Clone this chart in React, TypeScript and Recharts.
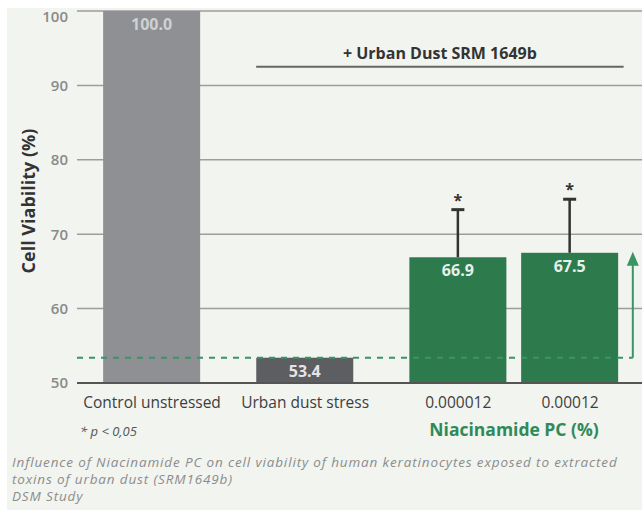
import { BarChart, Bar, XAxis, YAxis, CartesianGrid, ReferenceLine, LabelList, Cell } from 'recharts';

// categories and measured values (cell viability, %)
const categories = ['Control unstressed', 'Urban dust stress', '0.000012', '0.00012'];
const positions = [0, 1, 2, 2.73]; // the two niacinamide doses sit closer together
const viability = [100.0, 53.4, 66.9, 67.5];
const errorUp = [2.0, 0, 6.4, 7.2];
const significant = [false, false, true, true];
const barColors = ['#8e9094', '#5d5e62', '#2d7b4d', '#2d7b4d'];
const labelColors = ['#cfd0d2', '#e4e4e6', '#e6f0ea', '#e6f0ea'];
const yTicks = [50, 60, 70, 80, 90, 100];

// annotation positions (x in category units, y in %)
const bracketFrom = 0.68;
const bracketTo = 3.08;
const bracketY = 92.5;
const arrowPos = 3.14;

const Y_MIN = 50;
const Y_MAX = 100;
const GREEN = '#3a9464';
const FONT = '"Open Sans", sans-serif';

const data = categories.map((name, i) => ({
  name,
  pos: positions[i],
  value: viability[i],
  err: errorUp[i],
  sig: significant[i],
}));

function WhiskerBar(props: any) {
  const { x, y, width, height, fill, payload } = props;
  const pxPerUnit = height / (payload.value - Y_MIN);
  const cx = x + width / 2;
  const top = y - payload.err * pxPerUnit;
  return (
    <g>
      {payload.err > 0 && (
        <>
          <line x1={cx} x2={cx} y1={y} y2={top} stroke="#333" strokeWidth={2.5} />
          <line x1={cx - 6.5} x2={cx + 6.5} y1={top} y2={top} stroke="#333" strokeWidth={3} />
        </>
      )}
      {payload.sig && (
        <text x={cx} y={top - 4} textAnchor="middle" fontSize={16} fontWeight={700} fill="#333" fontFamily={FONT}>
          *
        </text>
      )}
      <rect x={x} y={y} width={width} height={height} fill={fill} />
    </g>
  );
}

function ValueLabel(props: any) {
  const { x, y, width, value, index } = props;
  return (
    <text
      x={x + width / 2}
      y={y + 13}
      textAnchor="middle"
      dominantBaseline="central"
      fontSize={16}
      fontWeight={700}
      fill={labelColors[index]}
      fontFamily={FONT}
    >
      {Number(value).toFixed(1)}
    </text>
  );
}

function ArrowLine(props: any) {
  const { x1, y1, y2 } = props;
  return (
    <g>
      <line x1={x1} x2={x1} y1={y1} y2={y2 + 10} stroke={GREEN} strokeWidth={2} />
      <polygon points={`${x1 - 6},${y2 + 13} ${x1 + 6},${y2 + 13} ${x1},${y2 - 1}`} fill={GREEN} />
    </g>
  );
}

export default function App() {
  return (
    <div style={{ position: 'absolute', left: 0, top: 0, width: 642, height: 513, background: '#fff', overflow: 'hidden', fontFamily: FONT }}>
      <div style={{ position: 'absolute', left: 7, top: 8, width: 635, height: 502, background: '#f1f4ef', overflow: 'hidden' }}>
        <BarChart width={635} height={420} data={data} margin={{ top: 3, right: 0, bottom: 15, left: 0 }}>
          <CartesianGrid vertical={false} stroke="#9c9d9c" strokeWidth={1.5} />
          <XAxis
            type="number"
            dataKey="pos"
            height={30}
            domain={[-0.49, 3.2]}
            allowDataOverflow
            ticks={positions}
            interval={0}
            tickFormatter={(v: number) => categories[positions.indexOf(v)]}
            tickLine={false}
            tickMargin={8}
            axisLine={{ stroke: '#555', strokeWidth: 2 }}
            tick={{ fill: '#3e3e3e', fontSize: 15.5, fontFamily: FONT }}
          />
          <YAxis
            width={70}
            domain={[Y_MIN, Y_MAX]}
            ticks={yTicks}
            allowDataOverflow
            axisLine={false}
            tickLine={false}
            tickMargin={3}
            tick={{ fill: '#8a8a8a', fontSize: 15, fontWeight: 600, fontFamily: FONT }}
          />
          <ReferenceLine
            segment={[{ x: -0.49, y: viability[1] }, { x: arrowPos, y: viability[1] }]}
            stroke={GREEN}
            strokeWidth={2}
            strokeDasharray="6 6"
            ifOverflow="visible"
          />
          <Bar dataKey="value" barSize={97} isAnimationActive={false} shape={<WhiskerBar />}>
            {data.map((d, i) => (
              <Cell key={d.name} fill={barColors[i]} />
            ))}
            <LabelList dataKey="value" content={<ValueLabel />} />
          </Bar>
          <ReferenceLine
            segment={[{ x: arrowPos, y: viability[1] }, { x: arrowPos, y: Math.max(viability[2], viability[3]) }]}
            ifOverflow="visible"
            shape={<ArrowLine />}
          />
          <ReferenceLine
            segment={[{ x: bracketFrom, y: bracketY }, { x: bracketTo, y: bracketY }]}
            stroke="#666"
            strokeWidth={2}
            ifOverflow="visible"
            label={{ value: '+ Urban Dust SRM 1649b', position: 'top', offset: 8, fill: '#333', fontSize: 16, fontWeight: 700, fontFamily: FONT }}
          />
          <text x={21} y={193} transform="rotate(-90 21 193)" textAnchor="middle" dominantBaseline="central" fontSize={18} fontWeight={700} fill="#333" fontFamily={FONT}>
            Cell Viability (%)
          </text>
        </BarChart>
        <div style={{ position: 'absolute', left: 73, top: 414, fontSize: 13, color: '#555', fontStyle: 'italic' }}>
          * p &lt; 0,05
        </div>
        <div style={{ position: 'absolute', left: 407, width: 200, textAlign: 'center', top: 409, fontSize: 17.5, fontWeight: 700, color: '#2f8a58' }}>
          Niacinamide PC (%)
        </div>
        <div style={{ position: 'absolute', left: 5, top: 446, fontSize: 13.5, lineHeight: '17px', letterSpacing: '0.85px', color: '#8c8c8c', fontStyle: 'italic', whiteSpace: 'nowrap' }}>
          Influence of Niacinamide PC on cell viability of human keratinocytes exposed to extracted
          <br />
          toxins of urban dust (SRM1649b)
          <br />
          DSM Study
        </div>
      </div>
    </div>
  );
}
